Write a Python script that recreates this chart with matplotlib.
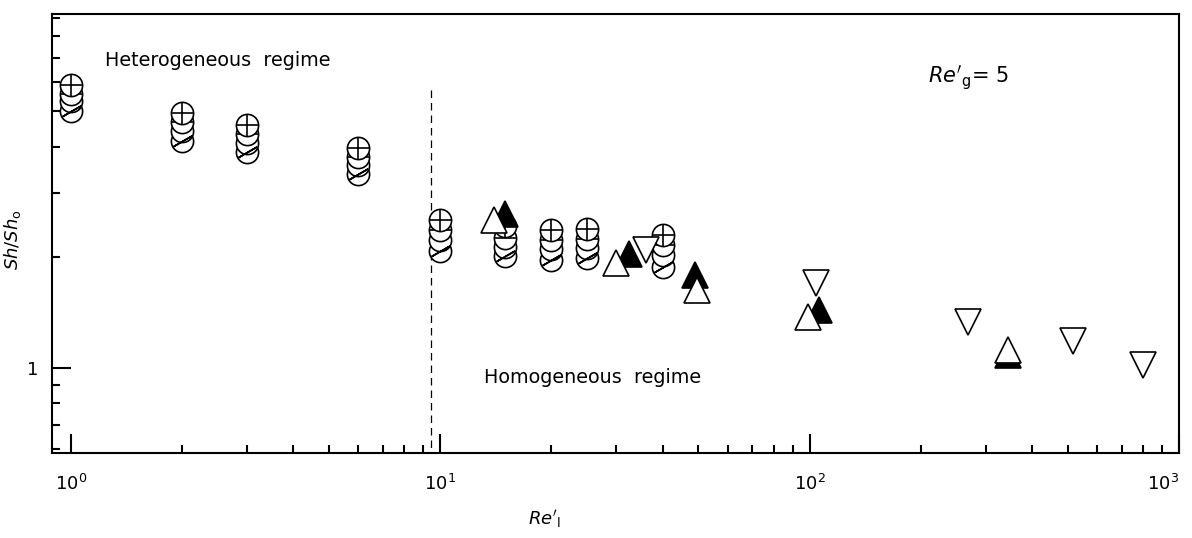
import numpy as np
import matplotlib
matplotlib.use("Agg")
import matplotlib.pyplot as plt
from matplotlib.ticker import FixedLocator, NullFormatter, FixedFormatter

plt.rcParams["font.family"] = ["DejaVu Sans"]
plt.rcParams["mathtext.default"] = "it"

# circle groups (x values shared by the four circle series)
x_circ = [1, 2, 3, 6, 10, 15, 20, 25, 40]
y_plus = [5.90, 4.95, 4.59, 3.98, 2.53, 2.44, 2.38, 2.39, 2.30]   # circle with +
y_bar = [5.58, 4.68, 4.34, 3.76, 2.38, 2.26, 2.23, 2.25, 2.16]    # circle with -
y_open = [5.34, 4.42, 4.10, 3.57, 2.23, 2.14, 2.11, 2.12, 2.03]   # plain circle
y_slash = [5.01, 4.15, 3.88, 3.38, 2.08, 2.01, 1.97, 1.99, 1.88]  # circle with /

# triangles
x_up_open = [14, 30, 49.5, 99, 345]
y_up_open = [2.53, 1.93, 1.63, 1.377, 1.12]
x_up_fill = [15, 32.4, 49, 106, 345]
y_up_fill = [2.63, 2.04, 1.79, 1.44, 1.085]
x_down = [36, 104, 268, 515, 797]
y_down = [2.10, 1.70, 1.33, 1.18, 1.02]

re_trans = 9.45  # regime boundary

CIRC_MS = 16
TRI_MS = 19
MEW = 1.2


def circle_series(ax, x, y, overlay, z, z_overlay=None):
    ax.plot(x, y, ls="none", marker="o", ms=CIRC_MS, mfc="white",
            mec="black", mew=MEW, zorder=z)
    if overlay is not None:
        if z_overlay is None:
            z_overlay = z + 0.01
        ax.plot(x, y, ls="none", marker=overlay, ms=CIRC_MS, mfc="none",
                mec="black", mew=MEW, zorder=z_overlay)


fig = plt.figure(figsize=(11.92, 5.38), dpi=100)
ax = fig.add_axes([52 / 1192, 1 - 453 / 538, (1179 - 52) / 1192, (453 - 14) / 538])
ax.set_xscale("log")
ax.set_yscale("log")
ax.set_xlim(0.89, 1000)
ax.set_ylim(0.586, 9.2)

# bottom circle first, top circle drawn last
circle_series(ax, x_circ, y_slash, (2, 2, -60), 3, z_overlay=5.5)
circle_series(ax, x_circ, y_open, None, 4)
circle_series(ax, x_circ, y_bar, "_", 5)
circle_series(ax, x_circ, y_plus, "+", 6)

ax.plot(x_up_fill, y_up_fill, ls="none", marker="^", ms=TRI_MS, mfc="black",
        mec="black", mew=MEW, zorder=7)
ax.plot(x_up_open, y_up_open, ls="none", marker="^", ms=TRI_MS, mfc="white",
        mec="black", mew=MEW, zorder=8)
ax.plot(x_down, y_down, ls="none", marker="v", ms=TRI_MS, mfc="white",
        mec="black", mew=MEW, zorder=8)

ax.plot([re_trans, re_trans], [5.7, 0.586], ls=(0, (6, 4)), color="black",
        lw=0.9, zorder=2)

# ticks
ax.xaxis.set_major_locator(FixedLocator([1, 10, 100, 1000]))
ax.xaxis.set_major_formatter(FixedFormatter([r"$\mathregular{10^{0}}$", r"$\mathregular{10^{1}}$",
                                             r"$\mathregular{10^{2}}$", r"$\mathregular{10^{3}}$"]))
xminor = [m * d for d in [1, 10, 100] for m in range(2, 10)]
ax.xaxis.set_minor_locator(FixedLocator(xminor))
ax.xaxis.set_minor_formatter(NullFormatter())
ax.yaxis.set_major_locator(FixedLocator([1]))
ax.yaxis.set_major_formatter(FixedFormatter(["1"]))
ax.yaxis.set_minor_locator(FixedLocator([0.6, 0.7, 0.8, 0.9, 2, 3, 4, 5, 6, 7, 8, 9]))
ax.yaxis.set_minor_formatter(NullFormatter())
ax.tick_params(which="both", direction="in", top=False, right=False, width=1.5)
ax.tick_params(which="major", length=14, labelsize=13)
ax.tick_params(which="minor", length=6)
ax.tick_params(axis="x", which="major", pad=15)
ax.tick_params(axis="y", which="major", pad=10)
for s in ax.spines.values():
    s.set_linewidth(1.5)
fig.canvas.draw()
ax.get_xticklabels()[-1].set_ha("right")

ax.set_xlabel(r"$Re'_{\mathrm{l}}$", fontsize=13)
ax.xaxis.set_label_coords(0.437, -0.125)
ax.set_ylabel(r"$Sh/Sh_{\mathrm{o}}$", fontsize=13)
ax.yaxis.set_label_coords(-0.026, 0.485)

ax.text(0.047, 0.895, "Heterogeneous  regime", transform=ax.transAxes,
        fontsize=13.8, va="center", ha="left")
ax.text(0.383, 0.173, "Homogeneous  regime", transform=ax.transAxes,
        fontsize=13.8, va="center", ha="left")
ax.text(0.777, 0.855, r"$Re'_{\mathrm{g}}$= 5", transform=ax.transAxes,
        fontsize=15, va="center", ha="left")

fig.savefig("out.png", dpi=100)
